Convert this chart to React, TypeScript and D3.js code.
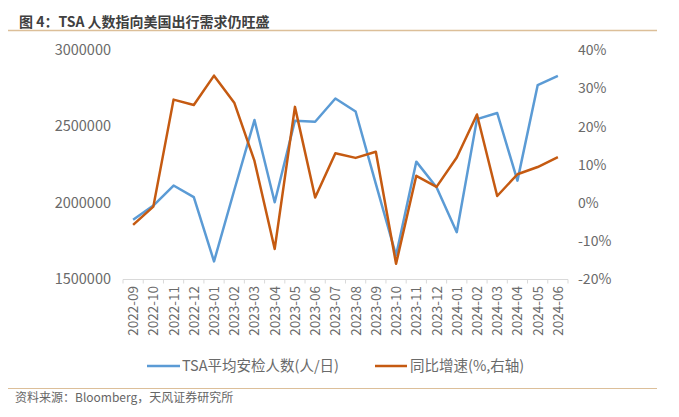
import React from "react";
import * as d3 from "d3";

const categories = [
  "2022-09", "2022-10", "2022-11", "2022-12", "2023-01", "2023-02", "2023-03", "2023-04",
  "2023-05", "2023-06", "2023-07", "2023-08", "2023-09", "2023-10", "2023-11", "2023-12",
  "2024-01", "2024-02", "2024-03", "2024-04", "2024-05", "2024-06",
];
const tsaPassengers = [
  1887000, 1980000, 2111000, 2035000, 1615000, 2080000, 2539000, 2002000,
  2535000, 2528000, 2680000, 2595000, 2122000, 1654000, 2267000, 2100000,
  1806000, 2545000, 2585000, 2143000, 2767000, 2828000,
];
const yoyGrowth = [
  -5.8, -1.0, 27.1, 25.7, 33.4, 26.3, 11.0, -12.1,
  25.2, 1.4, 13.0, 11.8, 13.4, -16.0, 7.1, 4.2,
  11.9, 23.2, 1.8, 7.5, 9.4, 12.0,
];
const leftTicks = [1500000, 2000000, 2500000, 3000000];
const rightTicks = [-20, -10, 0, 10, 20, 30, 40];
const titleText = "图 4：TSA 人数指向美国出行需求仍旺盛";
const legendBlue = "TSA平均安检人数(人/日)";
const legendOrange = "同比增速(%,右轴)";
const sourceText = "资料来源：Bloomberg，天风证券研究所";

const W = 679;
const H = 417;
const FONT = "'Noto Sans CJK SC', 'Noto Sans', sans-serif";
const BLUE = "#5b9bd5";
const ORANGE = "#c55a11";
const TXT = "#6a6a6a";

export default function App() {
  const x = d3.scaleBand<string>().domain(categories).range([123, 568]);
  const yL = d3.scaleLinear().domain([1500000, 3000000]).range([279, 49.5]);
  const yR = d3.scaleLinear().domain([-20, 40]).range([279, 50.5]);
  const cx = (c: string) => (x(c) ?? 0) + x.bandwidth() / 2;

  const blueLine = d3
    .line<number>()
    .x((_, i) => cx(categories[i]))
    .y((d) => yL(d));
  const orangeLine = d3
    .line<number>()
    .x((_, i) => cx(categories[i]))
    .y((d) => yR(d));

  const boundaries = categories.map((c) => x(c) ?? 0).concat([568]);

  return (
    <svg
      width={W}
      height={H}
      style={{ position: "absolute", left: 0, top: 0, background: "#fff" }}
      fontFamily={FONT}
    >
      <text x={19} y={27} fontSize={14} fontWeight="bold" fill="#404040">
        {titleText}
      </text>
      <line x1={8} x2={657} y1={30.5} y2={30.5} stroke="#dcbf99" strokeWidth={1.5} />

      {leftTicks.map((t) => (
        <text key={t} x={111} y={yL(t)} dy="0.35em" textAnchor="end" fontSize={14.5} fill={TXT}>
          {t}
        </text>
      ))}
      {rightTicks.map((t) => (
        <text key={t} x={578} y={yR(t)} dy="0.35em" textAnchor="start" fontSize={14} fill={TXT}>
          {t + "%"}
        </text>
      ))}

      <line x1={123} x2={568} y1={279.5} y2={279.5} stroke="#d9d9d9" strokeWidth={1} />
      {boundaries.map((b, i) => (
        <line key={i} x1={b} x2={b} y1={279.5} y2={283.5} stroke="#d9d9d9" strokeWidth={1} />
      ))}
      {categories.map((c) => (
        <text
          key={c}
          transform={`translate(${cx(c) + 5},${286}) rotate(-90)`}
          textAnchor="end"
          fontSize={13.5}
          fill={TXT}
        >
          {c}
        </text>
      ))}

      <path d={blueLine(tsaPassengers) ?? ""} fill="none" stroke={BLUE} strokeWidth={2.5} strokeLinejoin="round" />
      <path d={orangeLine(yoyGrowth) ?? ""} fill="none" stroke={ORANGE} strokeWidth={2.5} strokeLinejoin="round" />

      <line x1={147} x2={180} y1={366} y2={366} stroke={BLUE} strokeWidth={2.5} />
      <text x={182} y={366} dy="0.35em" fontSize={14.5} fill={TXT}>
        {legendBlue}
      </text>
      <line x1={375} x2={407} y1={366} y2={366} stroke={ORANGE} strokeWidth={2.5} />
      <text x={410} y={366} dy="0.35em" fontSize={14.5} fill={TXT}>
        {legendOrange}
      </text>

      <line x1={8} x2={657} y1={388.5} y2={388.5} stroke="#dcbf99" strokeWidth={1.2} />
      <text x={15} y={402} fontSize={12} fill="#666">
        {sourceText}
      </text>
    </svg>
  );
}
